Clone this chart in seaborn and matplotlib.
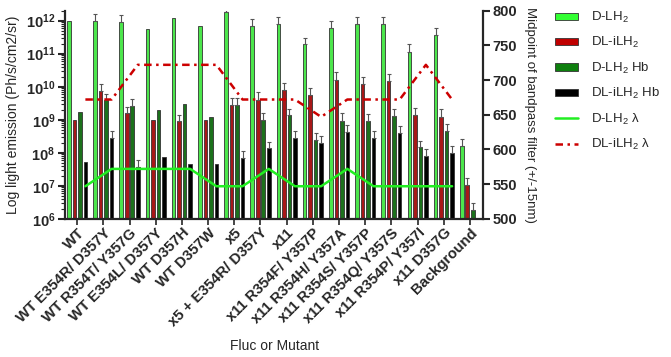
import numpy as np
import pandas as pd
import matplotlib
matplotlib.use("Agg")
import matplotlib.pyplot as plt
from matplotlib.patches import Patch
from matplotlib.lines import Line2D
from matplotlib.ticker import FixedLocator, LogLocator
import seaborn as sns

mutants = ["WT", "WT E354R/ D357Y", "WT R354T/ Y357G", "WT E354L/ D357Y",
           "WT D357H", "WT D357W", "x5", "x5 + E354R/ D357Y", "x11",
           "x11 R354F/ Y357P", "x11 R354H/ Y357A", "x11 R354S/ Y357P",
           "x11 R354Q/ Y357S", "x11 R354P/ Y357I", "x11 D357G", "Background"]

d_lh2 = [1.0e12, 1.0e12, 9.3e11, 5.6e11, 1.2e12, 6.9e11, 1.8e12, 6.9e11,
         7.9e11, 1.9e11, 6.0e11, 7.8e11, 8.2e11, 1.15e11, 3.6e11, 1.65e8]
d_lh2_err = [0, 6.0e11, 5.6e11, 0, 0, 0, 3.6e11, 4.5e11,
             5.2e11, 1.1e11, 4.0e11, 4.7e11, 5.1e11, 7.6e10, 2.2e11, 1.0e8]

dl_ilh2 = [9.5e8, 7.4e9, 1.55e9, 9.5e8, 9.0e8, 9.5e8, 2.7e9, 3.9e9,
           7.8e9, 5.5e9, 1.6e10, 1.2e10, 1.45e10, 1.4e9, 1.25e9, 1.07e7]
dl_ilh2_err = [0, 4.4e9, 9.3e8, 0, 5.4e8, 0, 1.8e9, 2.9e9,
               5.4e9, 3.6e9, 1.1e10, 8.3e9, 9.0e9, 9.2e8, 8.3e8, 7.1e6]

d_lh2_hb = [1.7e9, 3.9e9, 2.6e9, 1.95e9, 2.9e9, 1.2e9, 2.7e9, 1.0e9,
            1.35e9, 2.4e8, 9.4e8, 9.0e8, 1.3e9, 1.45e8, 4.5e8, 1.8e6]
d_lh2_hb_err = [0, 2.0e9, 1.6e9, 0, 0, 0, 1.9e9, 6.0e8,
                8.4e8, 1.5e8, 6.2e8, 5.6e8, 8.1e8, 9.0e7, 2.7e8, 1.2e6]

dl_ilh2_hb = [5.2e7, 2.8e8, 3.8e7, 7.2e7, 4.7e7, 4.6e7, 7.0e7, 1.35e8,
              2.8e8, 2.0e8, 4.3e8, 2.9e8, 4.0e8, 8.1e7, 1.0e8, np.nan]
dl_ilh2_hb_err = [0, 1.9e8, 2.3e7, 0, 0, 0, 4.3e7, 8.1e7,
                  1.7e8, 1.3e8, 2.6e8, 1.8e8, 2.5e8, 5.0e7, 6.2e7, np.nan]

# filter midpoints (nm), right axis
d_lh2_lambda = [547, 572, 572, 572, 572, 547, 547, 572,
                547, 547, 572, 547, 547, 547, 547, np.nan]
dl_ilh2_lambda = [672, 672, 722, 722, 722, 722, 672, 672,
                  672, 647, 672, 672, 672, 722, 672, np.nan]

series = ["D-LH2", "DL-iLH2", "D-LH2 Hb", "DL-iLH2 Hb"]
labels = [r"D-LH$_2$", r"DL-iLH$_2$", r"D-LH$_2$ Hb", r"DL-iLH$_2$ Hb"]
colors = ["#33ff33", "#c00000", "#0e7f0e", "#000000"]
values = [d_lh2, dl_ilh2, d_lh2_hb, dl_ilh2_hb]
errors = [d_lh2_err, dl_ilh2_err, d_lh2_hb_err, dl_ilh2_hb_err]

rows = []
for s, vals in zip(series, values):
    for m, v in zip(mutants, vals):
        rows.append({"mutant": m, "series": s, "value": v})
df = pd.DataFrame(rows)

sns.set_style("ticks")
plt.rcParams["font.family"] = ["Liberation Sans", "DejaVu Sans"]
plt.rcParams["mathtext.fontset"] = "custom"
plt.rcParams["mathtext.rm"] = "Liberation Sans"
plt.rcParams["mathtext.bf"] = "Liberation Sans:bold"

fig = plt.figure(figsize=(6.71, 3.57), dpi=100)
ax = fig.add_axes([0.097, 0.387, 0.623, 0.583])
ax.set_yscale("log")

slot = 0.21
sns.barplot(data=df, x="mutant", y="value", hue="series", order=mutants,
            hue_order=series, palette=colors, width=4 * slot, gap=0.35,
            errorbar=None, edgecolor="#333333", linewidth=0.6, legend=False,
            ax=ax)

# upper-only error bars
for p in ax.patches:
    h = p.get_height()
    if not np.isfinite(h) or h <= 0:
        continue
    xc = p.get_x() + p.get_width() / 2
    cat = int(round(xc))
    j = int(round((xc - cat) / slot + 1.5))
    e = errors[j][cat]
    if not np.isfinite(e) or e <= 0:
        continue
    ax.errorbar(xc, h, yerr=[[0], [e]], fmt="none", ecolor="#555555",
                elinewidth=0.8, capsize=1.2, capthick=0.8, zorder=3)

ax.set_ylim(1e6, 2e12)
ax.set_xlim(-0.46, 15.5)
ax.yaxis.set_major_locator(FixedLocator([10.0 ** k for k in range(6, 13)]))
ax.yaxis.set_minor_locator(LogLocator(base=10, subs=np.arange(2, 10), numticks=20))
ax.set_yticklabels([r"$\mathbf{10^{%d}}$" % k for k in range(6, 13)], fontsize=10.5)
ax.tick_params(axis="y", which="major", length=5, width=1.5, direction="out", pad=2)
ax.tick_params(axis="y", which="minor", length=3, width=0.8, direction="out")
ax.tick_params(axis="x", length=4, width=1.2, direction="out", pad=1)
ax.set_xticks(range(len(mutants)))
ax.set_xticklabels(mutants, rotation=45, ha="right", rotation_mode="anchor",
                   fontsize=10.7, fontweight="bold")
for sp in ["left", "bottom"]:
    ax.spines[sp].set_linewidth(1.6)
ax.spines["top"].set_visible(False)
ax.spines["right"].set_visible(False)
ax.set_xlabel("Fluc or Mutant", fontsize=10)
ax.xaxis.set_label_coords(0.5, -0.575)
ax.set_ylabel("Log light emission (Ph/s/cm2/sr)", fontsize=10)
ax.yaxis.set_label_coords(-0.108, 0.5)

# wavelength lines on the right axis
red_dash = (3, 1.8, 1, 1.8)
ax2 = ax.twinx()
xpos = np.arange(len(mutants)) + 1.5 * slot
ax2.plot(xpos, d_lh2_lambda, color="#22ee22", lw=1.8, solid_joinstyle="round")
ax2.plot(xpos, dl_ilh2_lambda, color="#cc0000", lw=1.8, dashes=red_dash)
ax2.set_ylim(500, 800)
ax2.set_yticks(range(500, 801, 50))
ax2.set_yticklabels([str(v) for v in range(500, 801, 50)], fontsize=10.5,
                    fontweight="bold")
ax2.tick_params(axis="y", length=5, width=1.5, direction="out", pad=2)
for sp in ["left", "top", "bottom"]:
    ax2.spines[sp].set_visible(False)
ax2.spines["right"].set_linewidth(1.6)
ax2.set_ylabel("Midpoint of bandpass filter (+/-15nm)", fontsize=9.5,
               rotation=270, labelpad=13)

handles = [Patch(facecolor=c, edgecolor="#333333", linewidth=0.6) for c in colors]
handles.append(Line2D([], [], color="#22ee22", lw=1.8))
handles.append(Line2D([], [], color="#cc0000", lw=1.8, dashes=red_dash))
leg_labels = labels + ["D-LH$_2$ λ", "DL-iLH$_2$ λ"]
fig.legend(handles, leg_labels, loc="upper left",
           bbox_to_anchor=(555 / 671, 1 - 10 / 357), frameon=False,
           fontsize=9.5, borderpad=0, borderaxespad=0,
           labelspacing=0.78, handlelength=1.75, handleheight=0.5,
           handletextpad=1.0)

fig.savefig("out.png", dpi=100)
